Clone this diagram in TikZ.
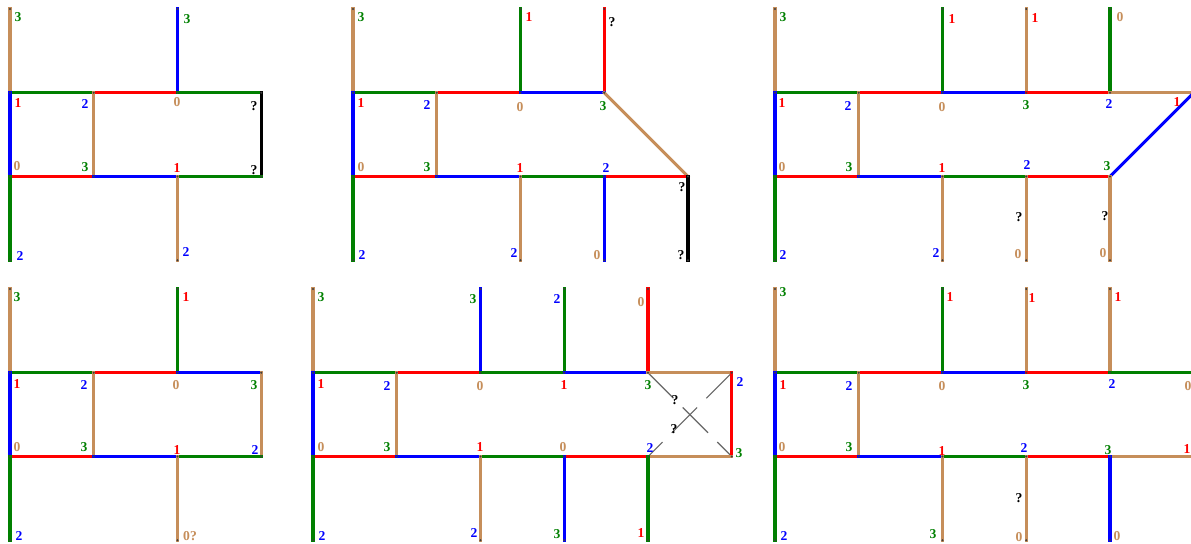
\documentclass[tikz,border=0pt]{standalone}
\usepackage{fontspec}
\setmainfont{Liberation Serif}
\definecolor{ctan}{RGB}{198,142,90}
\definecolor{cred}{RGB}{255,0,0}
\definecolor{cblue}{RGB}{0,0,255}
\definecolor{cgreen}{RGB}{0,128,0}
\definecolor{cblk}{RGB}{0,0,0}
\definecolor{cdot}{RGB}{60,60,60}
\newcount\lbn
\newcommand\mkgrid[4]{%
  \foreach \i in {0,...,#4}{\foreach \j in {0,...,3}{%
    \coordinate (#1-\i-\j) at ({#2+83.75*\i},{#3+83.75*\j});}}}
\newcommand\ed[3]{\draw[edge,#1] (#2) -- (#3);
  \fill[cdot] (#2) circle (1.1); \fill[cdot] (#3) circle (1.1);}
\newcommand\lb[3]{\global\advance\lbn by 1\relax
  \node[lab,text=#1] (lab\the\lbn) at (#2) {#3};}
\begin{document}
\begin{tikzpicture}[x=0.75pt,y=-0.75pt,
  edge/.style={line width=2.3pt,line cap=rect},
  xline/.style={line width=0.8pt,draw=black!60,dash pattern=on 27pt off 9.75pt},
  lab/.style={font=\fontsize{10.2}{11}\selectfont\bfseries,inner sep=0pt}]
\useasboundingbox (0,0) rectangle (1191,543);
\fill[white] (0,0) rectangle (1191,543);
\mkgrid{A}{10}{9}{3}
\mkgrid{B}{353}{9}{4}
\mkgrid{C}{775}{9}{5}
\mkgrid{D}{10}{289}{3}
\mkgrid{E}{313}{289}{5}
\mkgrid{F}{775}{289}{5}
% ---------- panel A
\ed{ctan}{A-0-0}{A-0-1}
\ed{cblue}{A-2-0}{A-2-1}
\ed{cgreen}{A-0-1}{A-1-1}
\ed{cred}{A-1-1}{A-2-1}
\ed{cgreen}{A-2-1}{A-3-1}
\ed{cblk}{A-3-1}{A-3-2}
\ed{cblue}{A-0-1}{A-0-2}
\ed{ctan}{A-1-1}{A-1-2}
\ed{cred}{A-0-2}{A-1-2}
\ed{cblue}{A-1-2}{A-2-2}
\ed{cgreen}{A-2-2}{A-3-2}
\ed{cgreen}{A-0-2}{A-0-3}
\ed{ctan}{A-2-2}{A-2-3}
% ---------- panel B
\ed{ctan}{B-0-0}{B-0-1}
\ed{cgreen}{B-2-0}{B-2-1}
\ed{cred}{B-3-0}{B-3-1}
\ed{cgreen}{B-0-1}{B-1-1}
\ed{cred}{B-1-1}{B-2-1}
\ed{cblue}{B-2-1}{B-3-1}
\ed{ctan}{B-3-1}{B-4-2}
\ed{cblue}{B-0-1}{B-0-2}
\ed{ctan}{B-1-1}{B-1-2}
\ed{cred}{B-0-2}{B-1-2}
\ed{cblue}{B-1-2}{B-2-2}
\ed{cgreen}{B-2-2}{B-3-2}
\ed{cred}{B-3-2}{B-4-2}
\ed{cblk}{B-4-2}{B-4-3}
\ed{cgreen}{B-0-2}{B-0-3}
\ed{ctan}{B-2-2}{B-2-3}
\ed{cblue}{B-3-2}{B-3-3}
% ---------- panel C
\ed{ctan}{C-0-0}{C-0-1}
\ed{cgreen}{C-2-0}{C-2-1}
\ed{ctan}{C-3-0}{C-3-1}
\ed{cgreen}{C-4-0}{C-4-1}
\ed{cgreen}{C-0-1}{C-1-1}
\ed{cred}{C-1-1}{C-2-1}
\ed{cblue}{C-2-1}{C-3-1}
\ed{cred}{C-3-1}{C-4-1}
\ed{ctan}{C-4-1}{C-5-1}
\ed{cblue}{C-4-2}{C-5-1}
\ed{cblue}{C-0-1}{C-0-2}
\ed{ctan}{C-1-1}{C-1-2}
\ed{cred}{C-0-2}{C-1-2}
\ed{cblue}{C-1-2}{C-2-2}
\ed{cgreen}{C-2-2}{C-3-2}
\ed{cred}{C-3-2}{C-4-2}
\ed{cgreen}{C-0-2}{C-0-3}
\ed{ctan}{C-2-2}{C-2-3}
\ed{ctan}{C-3-2}{C-3-3}
\ed{ctan}{C-4-2}{C-4-3}
% ---------- panel D
\ed{ctan}{D-0-0}{D-0-1}
\ed{cgreen}{D-2-0}{D-2-1}
\ed{cgreen}{D-0-1}{D-1-1}
\ed{cred}{D-1-1}{D-2-1}
\ed{cblue}{D-2-1}{D-3-1}
\ed{ctan}{D-3-1}{D-3-2}
\ed{cblue}{D-0-1}{D-0-2}
\ed{ctan}{D-1-1}{D-1-2}
\ed{cred}{D-0-2}{D-1-2}
\ed{cblue}{D-1-2}{D-2-2}
\ed{cgreen}{D-2-2}{D-3-2}
\ed{cgreen}{D-0-2}{D-0-3}
\ed{ctan}{D-2-2}{D-2-3}
% ---------- panel E
\draw[xline] (E-4-1) -- (E-5-2);
\draw[xline] (E-5-1) -- (E-4-2);
\ed{ctan}{E-0-0}{E-0-1}
\ed{cblue}{E-2-0}{E-2-1}
\ed{cgreen}{E-3-0}{E-3-1}
\ed{cred}{E-4-0}{E-4-1}
\ed{cgreen}{E-0-1}{E-1-1}
\ed{cred}{E-1-1}{E-2-1}
\ed{cgreen}{E-2-1}{E-3-1}
\ed{cblue}{E-3-1}{E-4-1}
\ed{ctan}{E-4-1}{E-5-1}
\ed{cred}{E-5-1}{E-5-2}
\ed{cblue}{E-0-1}{E-0-2}
\ed{ctan}{E-1-1}{E-1-2}
\ed{cred}{E-0-2}{E-1-2}
\ed{cblue}{E-1-2}{E-2-2}
\ed{cgreen}{E-2-2}{E-3-2}
\ed{cred}{E-3-2}{E-4-2}
\ed{ctan}{E-4-2}{E-5-2}
\ed{cgreen}{E-0-2}{E-0-3}
\ed{ctan}{E-2-2}{E-2-3}
\ed{cblue}{E-3-2}{E-3-3}
\ed{cgreen}{E-4-2}{E-4-3}
% ---------- panel F
\ed{ctan}{F-0-0}{F-0-1}
\ed{cgreen}{F-2-0}{F-2-1}
\ed{ctan}{F-3-0}{F-3-1}
\ed{ctan}{F-4-0}{F-4-1}
\ed{cgreen}{F-0-1}{F-1-1}
\ed{cred}{F-1-1}{F-2-1}
\ed{cblue}{F-2-1}{F-3-1}
\ed{cred}{F-3-1}{F-4-1}
\ed{cgreen}{F-4-1}{F-5-1}
\ed{cblue}{F-0-1}{F-0-2}
\ed{ctan}{F-1-1}{F-1-2}
\ed{cred}{F-0-2}{F-1-2}
\ed{cblue}{F-1-2}{F-2-2}
\ed{cgreen}{F-2-2}{F-3-2}
\ed{cred}{F-3-2}{F-4-2}
\ed{ctan}{F-4-2}{F-5-2}
\ed{cgreen}{F-0-2}{F-0-3}
\ed{ctan}{F-2-2}{F-2-3}
\ed{ctan}{F-3-2}{F-3-3}
\ed{cblue}{F-4-2}{F-4-3}
% ---------- labels panel A
\lb{cgreen}{18,17}{3} \lb{cgreen}{187,19}{3}
\lb{cred}{18,103}{1} \lb{cblue}{85,104}{2} \lb{ctan}{177,102}{0} \lb{cblk}{254,106}{?}
\lb{ctan}{17,166}{0} \lb{cgreen}{85,167}{3} \lb{cred}{177,168}{1} \lb{cblk}{254,170}{?}
\lb{cblue}{20,256}{2} \lb{cblue}{186,252}{2}
% ---------- labels panel B
\lb{cgreen}{361,17}{3} \lb{cred}{529,17}{1} \lb{cblk}{612,22}{?}
\lb{cred}{361,103}{1} \lb{cblue}{427,105}{2} \lb{ctan}{520,107}{0} \lb{cgreen}{603,106}{3}
\lb{ctan}{361,167}{0} \lb{cgreen}{427,167}{3} \lb{cred}{520,168}{1} \lb{cblue}{606,168}{2} \lb{cblk}{682,187}{?}
\lb{cblue}{362,255}{2} \lb{cblue}{514,253}{2} \lb{ctan}{597,255}{0} \lb{cblk}{681,255}{?}
% ---------- labels panel C
\lb{cgreen}{783,17}{3} \lb{cred}{952,19}{1} \lb{cred}{1035,18}{1} \lb{ctan}{1120,17}{0}
\lb{cred}{782,103}{1} \lb{cblue}{848,106}{2} \lb{ctan}{942,107}{0} \lb{cgreen}{1026,105}{3} \lb{cblue}{1109,104}{2} \lb{cred}{1177,102}{1}
\lb{ctan}{782,167}{0} \lb{cgreen}{849,167}{3} \lb{cred}{942,168}{1} \lb{cblue}{1027,165}{2} \lb{cgreen}{1107,166}{3}
\lb{cblue}{783,255}{2} \lb{cblue}{936,253}{2} \lb{cblk}{1019,217}{?} \lb{ctan}{1018,254}{0} \lb{cblk}{1105,216}{?} \lb{ctan}{1103,253}{0}
% ---------- labels panel D
\lb{cgreen}{17,297}{3} \lb{cred}{186,297}{1}
\lb{cred}{17,384}{1} \lb{cblue}{84,385}{2} \lb{ctan}{176,385}{0} \lb{cgreen}{254,385}{3}
\lb{ctan}{17,447}{0} \lb{cgreen}{84,447}{3} \lb{cred}{177,450}{1} \lb{cblue}{255,450}{2}
\lb{cblue}{19,536}{2} \lb{ctan}{190,536}{0?}
% ---------- labels panel E
\lb{cgreen}{321,297}{3} \lb{cgreen}{473,299}{3} \lb{cblue}{557,299}{2} \lb{ctan}{641,302}{0}
\lb{cred}{321,384}{1} \lb{cblue}{387,386}{2} \lb{ctan}{480,386}{0} \lb{cred}{564,385}{1} \lb{cgreen}{648,385}{3} \lb{cblue}{740,382}{2}
\lb{cblk}{675,400}{?} \lb{cblk}{674,429}{?}
\lb{ctan}{321,447}{0} \lb{cgreen}{387,447}{3} \lb{cred}{480,447}{1} \lb{ctan}{563,447}{0} \lb{cblue}{650,448}{2} \lb{cgreen}{739,453}{3}
\lb{cblue}{322,536}{2} \lb{cblue}{474,533}{2} \lb{cgreen}{557,534}{3} \lb{cred}{641,533}{1}
% ---------- labels panel F
\lb{cgreen}{783,292}{3} \lb{cred}{950,297}{1} \lb{cred}{1032,298}{1} \lb{cred}{1118,297}{1}
\lb{cred}{783,385}{1} \lb{cblue}{849,386}{2} \lb{ctan}{942,386}{0} \lb{cgreen}{1026,385}{3} \lb{cblue}{1112,384}{2} \lb{ctan}{1188,386}{0}
\lb{ctan}{782,447}{0} \lb{cgreen}{849,447}{3} \lb{cred}{942,451}{1} \lb{cblue}{1024,448}{2} \lb{cgreen}{1108,450}{3} \lb{cred}{1187,449}{1}
\lb{cblue}{784,536}{2} \lb{cgreen}{933,534}{3} \lb{cblk}{1019,498}{?} \lb{ctan}{1019,537}{0} \lb{ctan}{1117,536}{0}
\end{tikzpicture}
\end{document}
